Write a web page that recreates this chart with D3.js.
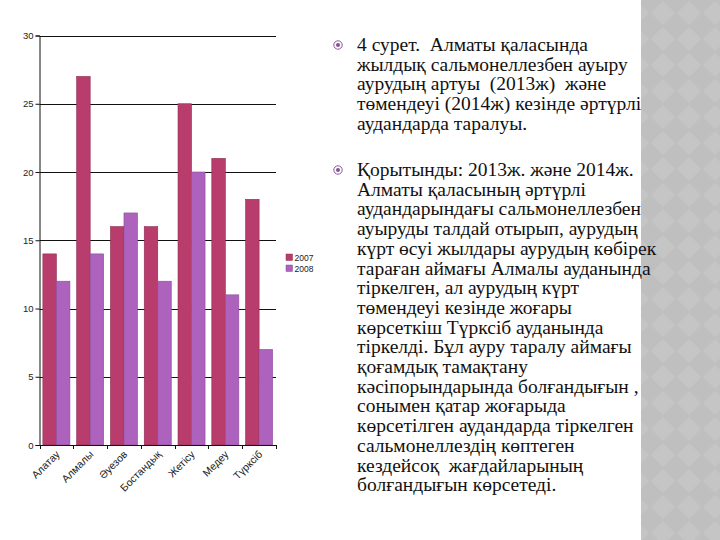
<!DOCTYPE html>
<html><head><meta charset="utf-8">
<script src="https://cdn.jsdelivr.net/npm/d3@7"></script>
<style>html,body{margin:0;padding:0;background:#fff;}svg{display:block;} text{white-space:pre;}</style>
</head><body>
<script>
const categories = ["Алатау","Алмалы","Әуезов","Бостандық","Жетісу","Медеу","Түрксіб"];
const series = ["2007","2008"];
const values2007 = [14,27,16,16,25,21,18];
const values2008 = [12,14,17,12,20,11,7];
const yTicks = [0,5,10,15,20,25,30];
const para1 = ["4 сурет.  Алматы қаласында","жылдық сальмонеллезбен ауыру","аурудың артуы  (2013ж)  және","төмендеуі (2014ж) кезінде әртүрлі","аудандарда таралуы."];
const para2 = ["Қорытынды: 2013ж. және 2014ж.","Алматы қаласының әртүрлі","аудандарындағы сальмонеллезбен","ауыруды талдай отырып, аурудың","күрт өсуі жылдары аурудың көбірек","тараған аймағы Алмалы ауданында","тіркелген, ал аурудың күрт","төмендеуі кезінде жоғары","көрсеткіш Түрксіб ауданында","тіркелді. Бұл ауру таралу аймағы","қоғамдық тамақтану","кәсіпорындарында болғандығын ,","сонымен қатар жоғарыда","көрсетілген аудандарда тіркелген","сальмонеллездің көптеген","кездейсоқ  жағдайларының","болғандығын көрсетеді."];

const W=720,H=540;
const svg=d3.select("body").append("svg").attr("width",W).attr("height",H);
svg.append("rect").attr("width",W).attr("height",H).attr("fill","#fff");

// right decorative stripe
const defs=svg.append("defs");
const pat=defs.append("pattern").attr("id","dia").attr("patternUnits","userSpaceOnUse").attr("width",26).attr("height",26);
pat.append("rect").attr("width",26).attr("height",26).attr("fill","#bfbfbf");
pat.append("path").attr("d","M13,1 L25,13 L13,25 L1,13 Z").attr("fill","#c5c5c5");
svg.append("rect").attr("x",641).attr("y",0).attr("width",79).attr("height",H).attr("fill","url(#dia)");

// chart
const m={l:39.5,r:276,t:35.5,b:445};
const x=d3.scaleBand().domain(categories).range([m.l,m.r]).padding(0);
const xs=d3.scaleBand().domain(series).range([0,x.bandwidth()]).paddingInner(0).paddingOuter(0.25);
const y=d3.scaleLinear().domain([0,30]).range([m.b,m.t]);
const colors={"2007":"#b93d6c","2008":"#ad63bd"};
const strokes={"2007":"#8e2d52","2008":"#8a4c98"};
const sans="'Liberation Sans', Arial, sans-serif";

const g=svg.append("g");
g.selectAll("line.grid").data(yTicks.filter(d=>d>0)).join("line")
 .attr("x1",m.l).attr("x2",m.r).attr("y1",d=>Math.round(y(d))+0.5).attr("y2",d=>Math.round(y(d))+0.5)
 .attr("stroke","#111").attr("stroke-width",1);

const data=categories.map((c,i)=>({c,vals:[{s:"2007",v:values2007[i]},{s:"2008",v:values2008[i]}]}));
const grp=g.selectAll("g.cat").data(data).join("g").attr("transform",d=>`translate(${x(d.c)},0)`);
grp.selectAll("rect").data(d=>d.vals).join("rect")
 .attr("x",d=>xs(d.s)).attr("width",xs.bandwidth())
 .attr("y",d=>y(d.v)).attr("height",d=>y(0)-y(d.v))
 .attr("fill",d=>colors[d.s]).attr("stroke",d=>strokes[d.s]).attr("stroke-width",0.6);

// y axis
const yAxis=d3.axisLeft(y).tickValues(yTicks).tickSize(4).tickPadding(2);
const ya=svg.append("g").attr("transform",`translate(${m.l},0)`).call(yAxis);
ya.selectAll("text").attr("font-family",sans).attr("font-size","9.5px").attr("fill","#222");
ya.selectAll("line,path").attr("stroke","#111");

// x axis
const xa=svg.append("g").attr("transform",`translate(0,${m.b})`);
xa.append("line").attr("x1",m.l).attr("x2",m.r).attr("y1",0.5).attr("y2",0.5).attr("stroke","#111");
const bounds=categories.map(c=>x(c)).concat([x.range()[1]]);
xa.selectAll("line.tk").data(bounds).join("line").attr("class","tk")
 .attr("x1",d=>Math.round(d)+0.5).attr("x2",d=>Math.round(d)+0.5).attr("y1",0).attr("y2",4).attr("stroke","#111");
xa.selectAll("text").data(categories).join("text")
 .attr("transform",d=>`translate(${x(d)+x.bandwidth()/2+4},${10}) rotate(-45)`)
 .attr("text-anchor","end").attr("font-family",sans).attr("font-size","10.5px").attr("fill","#222")
 .text(d=>d);

// legend
const lg=svg.append("g").attr("transform","translate(286,254)");
lg.selectAll("g").data(series).join("g").attr("transform",(d,i)=>`translate(0,${i*11})`)
 .each(function(d){
   const s=d3.select(this);
   s.append("rect").attr("width",6.5).attr("height",6.5).attr("fill",colors[d]).attr("stroke",strokes[d]).attr("stroke-width",0.5);
   s.append("text").attr("x",8.5).attr("y",7).attr("font-family",sans).attr("font-size","8.5px").attr("fill","#222").text(d);
 });

// text block
const tb=svg.append("g").attr("font-family","'Liberation Serif', 'DejaVu Serif', serif").attr("font-size","19.5px").attr("fill","#111");
function para(lines,y0){
  tb.append("g").selectAll("text").data(lines).join("text")
   .attr("x",357).attr("y",(d,i)=>y0+i*19.7).text(d=>d);
  svg.append("circle").attr("cx",338).attr("cy",y0-6).attr("r",4.2).attr("fill","none").attr("stroke","#8a5a9a").attr("stroke-width",1);
  svg.append("circle").attr("cx",338).attr("cy",y0-6).attr("r",2).attr("fill","#8a4c98");
}
para(para1,51);
para(para2,176);
</script>
</body></html>
